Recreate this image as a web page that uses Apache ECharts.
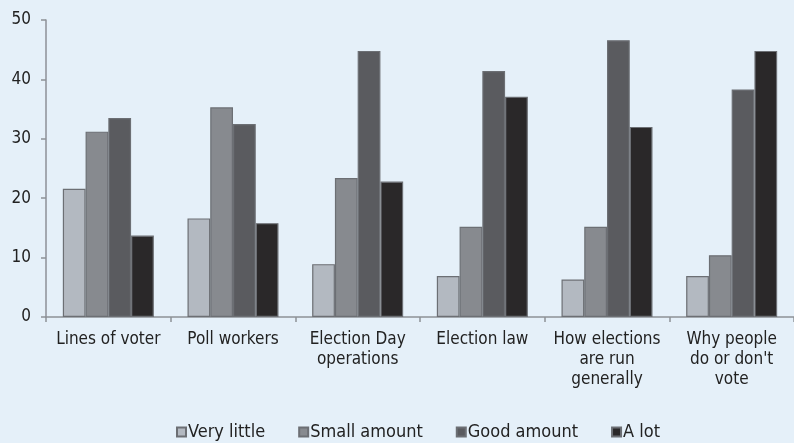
<!DOCTYPE html>
<html>
<head>
<meta charset="utf-8">
<script src="https://cdn.jsdelivr.net/npm/echarts@6/dist/echarts.min.js"></script>
<style>
html,body{margin:0;padding:0;background:#e5f0f9;}
#c{width:794px;height:443px;}
</style>
</head>
<body>
<div id="c"></div>
<script>
const categories = ["Lines of voter", "Poll workers", "Election Day\noperations", "Election law", "How elections\nare run\ngenerally", "Why people\ndo or don't\nvote"];
const seriesNames = ["Very little", "Small amount", "Good amount", "A lot"];
const veryLittle = [21.6, 16.6, 8.9, 6.9, 6.3, 6.9];
const smallAmount = [31.2, 35.3, 23.4, 15.2, 15.2, 10.4];
const goodAmount = [33.5, 32.5, 44.8, 41.4, 46.6, 38.3];
const aLot = [13.7, 15.8, 22.8, 37.1, 32.0, 44.8];
const yTicks = [0, 10, 20, 30, 40, 50];

const colors = ["#b3b9c1", "#878a8f", "#5a5b5f", "#2a2829"];
const font = "'Liberation Sans Narrow', 'DejaVu Sans Condensed', sans-serif";
const values = [veryLittle, smallAmount, goodAmount, aLot];

const chart = echarts.init(document.getElementById('c'));
chart.setOption({
  backgroundColor: '#e5f0f9',
  animation: false,
  textStyle: { fontFamily: font, color: '#222' },
  grid: { left: 46, top: 20, width: 751, height: 297, containLabel: false },
  legend: {
    data: seriesNames,
    top: 418,
    left: 171,
    itemWidth: 9,
    itemHeight: 9,
    itemGap: 33,
    icon: 'rect',
    textStyle: { fontFamily: font, fontSize: 18, color: '#222', padding: [0, 0, 0, -3] }
  },
  xAxis: {
    type: 'category',
    data: categories,
    axisLine: { lineStyle: { color: '#8d9197', width: 1.5 } },
    axisTick: { show: true, length: 5, lineStyle: { color: '#8d9197', width: 1.5 } },
    axisLabel: { interval: 0, fontFamily: font, fontSize: 17, color: '#222', lineHeight: 20, margin: 13 }
  },
  yAxis: {
    type: 'value',
    min: yTicks[0],
    max: yTicks[yTicks.length - 1],
    interval: 10,
    splitLine: { show: false },
    axisLine: { show: true, lineStyle: { color: '#8d9197', width: 1.5 } },
    axisTick: { show: true, length: 5, lineStyle: { color: '#8d9197', width: 1.5 } },
    axisLabel: { fontFamily: font, fontSize: 17, color: '#222', margin: 15 }
  },
  series: seriesNames.map((n, i) => ({
    name: n,
    type: 'bar',
    data: values[i],
    barGap: '0%',
    barCategoryGap: '27%',
    itemStyle: { color: colors[i], borderColor: '#6c6f74', borderWidth: 1.2 }
  }))
});
</script>
</body>
</html>
